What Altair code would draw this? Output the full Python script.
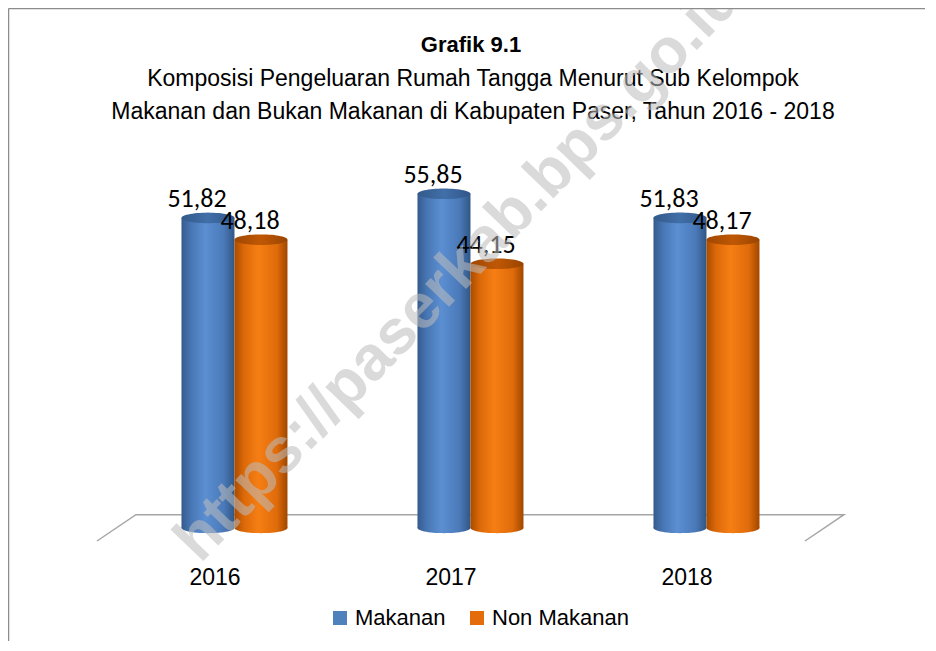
import altair as alt
import pandas as pd
import numpy as np

# ---------------- data ----------------
years = ["2016", "2017", "2018"]
series = ["Makanan", "Non Makanan"]
makanan = [51.82, 55.85, 51.83]
non_makanan = [48.18, 44.15, 48.17]

title_text = "Grafik 9.1"
subtitle_lines = [
    "Komposisi Pengeluaran Rumah Tangga Menurut Sub Kelompok",
    "Makanan dan Bukan Makanan di Kabupaten Paser, Tahun 2016 - 2018",
]
watermark_text = "https://paserkab.bps.go.id"

# ---------------- layout / style ----------------
W, H = 708, 372
Y_MIN, Y_MAX = -2.2, 60
DEPTH = 0.165           # 3-D depth shift of the floor, in category units
BAR_PX = 53
BAR_W = BAR_PX / (W / 3)
ELL_RATIO = 0.2

legend_colors = ["#4f81bd", "#e46c0a"]
FONT = "Liberation Sans"
LABEL_FONT = "Carlito, Lato"


def grad(stops):
    return alt.LinearGradient(
        gradient="linear", x1=0, x2=1, y1=0, y2=0,
        stops=[alt.GradientStop(offset=o, color=c) for o, c in stops],
    )


side = {
    "Makanan": grad([(0, "#345b8c"), (0.18, "#4876b4"), (0.45, "#5b8fd2"),
                     (0.8, "#4a79b8"), (1, "#315685")]),
    "Non Makanan": grad([(0, "#a94b00"), (0.18, "#dc6908"), (0.45, "#f67e14"),
                         (0.8, "#df6b0a"), (1, "#a04700")]),
}
top = {
    "Makanan": grad([(0, "#335a8a"), (0.5, "#416fa8"), (1, "#31568a")]),
    "Non Makanan": grad([(0, "#a04700"), (0.5, "#bf5805"), (1, "#9a4400")]),
}

# ellipse symbol path in the [-1, 1] box
t = np.linspace(0, 2 * np.pi, 60, endpoint=False)
ELLIPSE = "M " + " L ".join(f"{np.cos(a):.4f} {ELL_RATIO * np.sin(a):.4f}" for a in t) + " Z"

rows = []
for i, yr in enumerate(years):
    for k, (s, vals) in enumerate(zip(series, [makanan, non_makanan])):
        c = i + 0.5 + DEPTH / 2 + (k - 0.5) * BAR_W
        rows.append(dict(year=yr, series=s, value=vals[i], center=c,
                         x0=c - BAR_W / 2, x1=c + BAR_W / 2, base=0.0))
bars = pd.DataFrame(rows)

floor = pd.DataFrame({
    "fx": [0, DEPTH, 3 + DEPTH, 3],
    "fy": [Y_MIN, -Y_MIN, -Y_MIN, Y_MIN],
    "o": [0, 1, 2, 3],
})
year_df = pd.DataFrame({"year": years, "xc": [i + 0.5 for i in range(len(years))]})

xs = alt.Scale(domain=[0, 3], nice=False, zero=False)
ys = alt.Scale(domain=[Y_MIN, Y_MAX], nice=False, zero=False)

floor_layer = alt.Chart(floor).mark_line(color="#a6a6a6", strokeWidth=1.5).encode(
    x=alt.X("fx:Q", scale=xs, axis=alt.Axis(
        values=[0, 1, 2, 3], labels=False, ticks=True, tickSize=8, tickColor="#8c8c8c",
        tickWidth=1.5, domainColor="#a0a0a0", domainWidth=1.5, grid=False, title=None)),
    y=alt.Y("fy:Q", scale=ys, axis=None),
    order="o:O",
)

layers = [floor_layer]
for s in series:
    d = bars[bars.series == s]
    base = alt.Chart(d)
    layers.append(base.mark_point(shape=ELLIPSE, size=BAR_PX ** 2, filled=True, opacity=1,
                                  fill=side[s], strokeWidth=0).encode(
        x=alt.X("center:Q", scale=xs, axis=None), y=alt.Y("base:Q", scale=ys, axis=None)))
    layers.append(base.mark_rect(fill=side[s], strokeWidth=0).encode(
        x=alt.X("x0:Q", scale=xs, axis=None), x2="x1:Q",
        y=alt.Y("value:Q", scale=ys, axis=None), y2="base:Q"))
    layers.append(base.mark_point(shape=ELLIPSE, size=BAR_PX ** 2, filled=True, opacity=1,
                                  fill=top[s], strokeWidth=0).encode(
        x=alt.X("center:Q", scale=xs, axis=None), y=alt.Y("value:Q", scale=ys, axis=None)))

labels = alt.Chart(bars).transform_calculate(
    lbl="replace(format(datum.value, '.2f'), '.', ',')"
).mark_text(font=LABEL_FONT, fontSize=26, color="black", dx=-11, dy=-11,
            baseline="alphabetic", align="center").encode(
    x=alt.X("center:Q", scale=xs, axis=None),
    y=alt.Y("value:Q", scale=ys, axis=None),
    text="lbl:N",
)

legend_layer = alt.Chart(bars).mark_square(opacity=0, filled=True).encode(
    x=alt.X("center:Q", scale=xs, axis=None),
    y=alt.Y("value:Q", scale=ys, axis=None),
    color=alt.Color("series:N", scale=alt.Scale(domain=series, range=legend_colors),
                    legend=alt.Legend(orient="none", legendX=232, legendY=438,
                                      direction="horizontal", columns=2, title=None,
                                      symbolType="square", symbolSize=196, symbolOpacity=1,
                                      symbolStrokeWidth=0, labelFont=FONT, labelFontSize=22,
                                      labelColor="black", labelOffset=4, columnPadding=20,
                                      padding=0)),
)

year_labels = alt.Chart(year_df).mark_text(font=FONT, fontSize=23, color="black",
                                           baseline="alphabetic").encode(
    x=alt.X("xc:Q", scale=xs, axis=None),
    y=alt.value(H + 44),
    text="year:N",
)

title_df = pd.DataFrame({"t": [title_text]})
title_layer = alt.Chart(title_df).mark_text(
    font=FONT, fontSize=22, fontWeight="bold", color="black",
    align="center", baseline="alphabetic").encode(
    x=alt.value(374), y=alt.value(-117), text="t:N")

sub_df = pd.DataFrame({"t": [subtitle_lines]})
subtitle_layer = alt.Chart(sub_df).mark_text(
    font=FONT, fontSize=23, color="black", align="center", baseline="alphabetic",
    lineHeight=33).encode(
    x=alt.value(376), y=alt.value(-83), text="t")

watermark = alt.Chart(pd.DataFrame({"w": [watermark_text]})).mark_text(
    font=FONT, fontWeight="bold", fontSize=63, angle=314, color="#bdbdbd", opacity=0.55,
    align="center", baseline="middle").encode(
    x=alt.value(362), y=alt.value(100), text="w:N")

frame_v = alt.Chart(pd.DataFrame({"a": [0]})).mark_rule(color="#8c8c8c", strokeWidth=1.5).encode(
    x=alt.value(-88.5), y=alt.value(-160.5), y2=alt.value(H + 120))
frame_h = alt.Chart(pd.DataFrame({"a": [0]})).mark_rule(color="#8c8c8c", strokeWidth=1.5).encode(
    x=alt.value(-88.5), x2=alt.value(W + 130), y=alt.value(-160.5))

chart = alt.layer(
    *layers, labels, legend_layer, year_labels, title_layer, subtitle_layer,
    watermark, frame_v, frame_h
).properties(
    width=W, height=H,
    padding={"left": 89, "top": 161, "right": 120, "bottom": 100},
    autosize=alt.AutoSizeParams(type="none"),
).configure_view(stroke=None)

chart.save("out.html", embed_options={"renderer": "svg", "actions": False})
